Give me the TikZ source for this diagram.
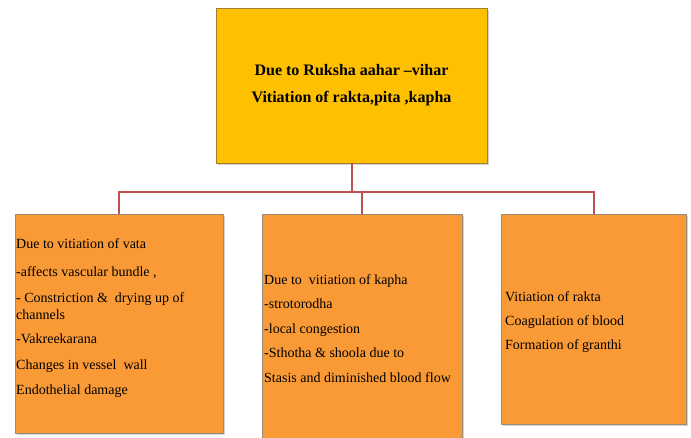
\documentclass[tikz,border=0pt]{standalone}
\usepackage{fontspec}
\setmainfont{Liberation Serif}
\usetikzlibrary{shadows}
\definecolor{topfill}{HTML}{FFC000}
\definecolor{topedge}{HTML}{A08030}
\definecolor{boxfill}{HTML}{F99A36}
\definecolor{boxedge}{HTML}{9A8A7A}
\definecolor{linkred}{HTML}{C0504D}
\tikzset{
  topbox/.style={draw=topedge, fill=topfill, line width=0.8pt, inner sep=0pt, outer sep=0pt,
    drop shadow={shadow xshift=1.5pt, shadow yshift=-1.5pt, opacity=0.35}},
  subbox/.style={draw=boxedge, fill=boxfill, line width=0.8pt, inner sep=0pt, outer sep=0pt,
    drop shadow={shadow xshift=1.5pt, shadow yshift=-1.5pt, opacity=0.35}},
  bodytext/.style={inner sep=0pt, align=left, anchor=north west,
    font=\fontsize{14}{17}\selectfont},
  link/.style={draw=linkred, line width=2pt}
}
\begin{document}
\begin{tikzpicture}[x=1pt,y=-1pt]
\useasboundingbox (0,0) rectangle (691,437);
\node[topbox, minimum width=271pt, minimum height=155pt, align=center,
      font=\fontsize{16}{27}\selectfont\bfseries] (top) at (351.5,85.5)
  {Due to Ruksha aahar –vihar\\Vitiation of rakta,pita ,kapha};
\node[subbox, minimum width=208pt, minimum height=219pt] (L) at (119,323.5) {};
\node[subbox, minimum width=200pt, minimum height=231pt] (M) at (362,329.5) {};
\node[subbox, minimum width=185pt, minimum height=210pt] (R) at (593.5,319) {};
\coordinate (j) at ([yshift=-29pt]top.south);
\draw[link] (top.south) -- (j);
\draw[link] (j) -| (L.north);
\draw[link] (j) -| (M.north);
\draw[link] (j) -| (R.north);
\node[bodytext] (Lt) at (16,238) {Due to vitiation of vata\\[11pt]
  -affects vascular bundle ,\\[9pt]
  - Constriction \&\ \ drying up of\\channels\\[7pt]
  -Vakreekarana\\[9pt]
  Changes in vessel\ \ wall\\[8pt]
  Endothelial damage};
\node[bodytext] (Mt) at (264,274) {Due to\ \ vitiation of kapha\\[7.5pt]
  -strotorodha\\[7.5pt]
  -local congestion\\[7.5pt]
  -Sthotha \& shoola due to\\[7.5pt]
  Stasis and diminished blood flow};
\node[bodytext] (Rt) at (505,291) {Vitiation of rakta\\[7pt]
  Coagulation of blood\\[7pt]
  Formation of granthi};
\end{tikzpicture}
\end{document}
